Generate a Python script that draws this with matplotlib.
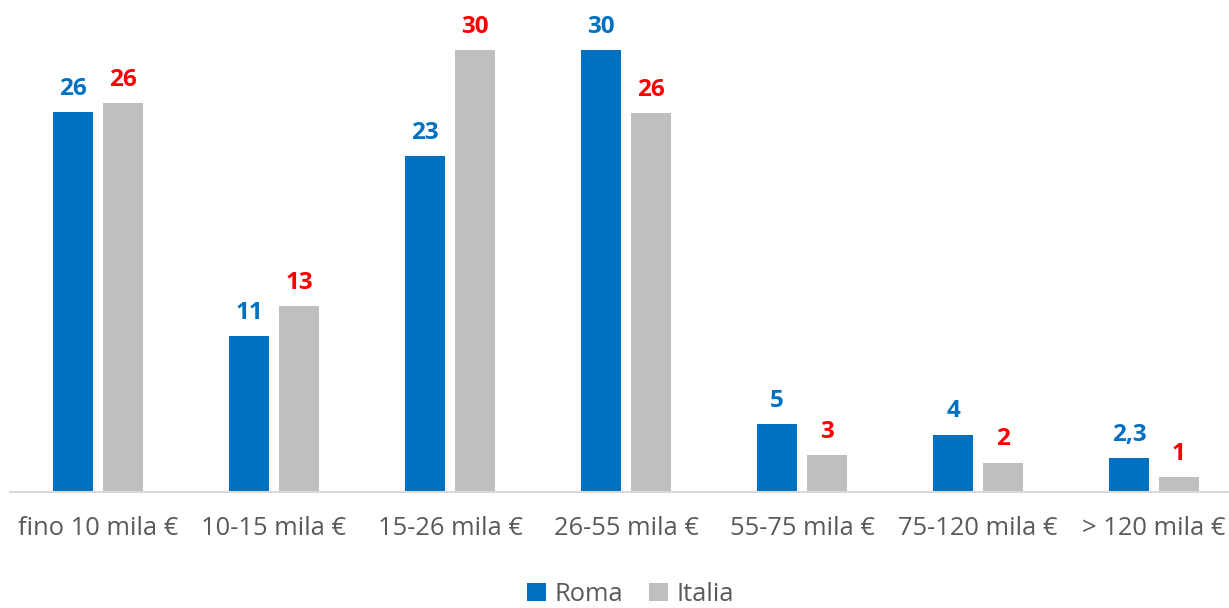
import matplotlib.pyplot as plt
import numpy as np

# Dati
categorie = ["fino 10 mila €", "10-15 mila €", "15-26 mila €", "26-55 mila €",
             "55-75 mila €", "75-120 mila €", "> 120 mila €"]
roma = [25.8, 10.6, 22.8, 30.0, 4.6, 3.9, 2.3]
italia = [26.4, 12.6, 30.0, 25.7, 2.5, 2.0, 1.0]
etichette_roma = ["26", "11", "23", "30", "5", "4", "2,3"]
etichette_italia = ["26", "13", "30", "26", "3", "2", "1"]

BLU = "#0070c0"
GRIGIO = "#bfbfbf"
ROSSO = "#ff0000"
FONT = "Open Sans"

plt.rcParams['font.family'] = [FONT, 'DejaVu Sans']

fig = plt.figure(figsize=(12.29, 6.08), dpi=100)
ax = fig.add_axes([10 / 1229, 1 - 492 / 608, 1 - 10 / 1229, 492 / 608])

x = np.arange(len(categorie))
larghezza = 0.227
offset = 0.142

barre_r = ax.bar(x - offset, roma, larghezza, color=BLU, label="Roma")
barre_i = ax.bar(x + offset, italia, larghezza, color=GRIGIO, label="Italia")

for b, t in zip(barre_r, etichette_roma):
    ax.annotate(t, (b.get_x() + b.get_width() / 2, b.get_height()),
                xytext=(0, 8), textcoords="offset points", ha="center", va="bottom",
                fontsize=17.5, fontweight="bold", color=BLU)
for b, t in zip(barre_i, etichette_italia):
    ax.annotate(t, (b.get_x() + b.get_width() / 2, b.get_height()),
                xytext=(0, 8), textcoords="offset points", ha="center", va="bottom",
                fontsize=17.5, fontweight="bold", color=ROSSO)

ax.set_xlim(-0.5, 6.426)
ax.set_ylim(0, 33.4)
ax.set_xticks(x)
ax.set_xticklabels(categorie, fontsize=18.4, color="#595959")
ax.tick_params(axis="x", length=0, pad=17)
ax.set_yticks([])
for s in ["top", "right", "left"]:
    ax.spines[s].set_visible(False)
ax.spines["bottom"].set_color("#d9d9d9")
ax.spines["bottom"].set_linewidth(1.5)

fig.legend(loc="lower center", bbox_to_anchor=(0.513, -0.036), ncol=2, frameon=False,
           fontsize=18.4, handlelength=0.75, handleheight=0.75, handletextpad=0.35,
           columnspacing=1.0, labelcolor="#595959")

fig.savefig("out.png", dpi=100)
